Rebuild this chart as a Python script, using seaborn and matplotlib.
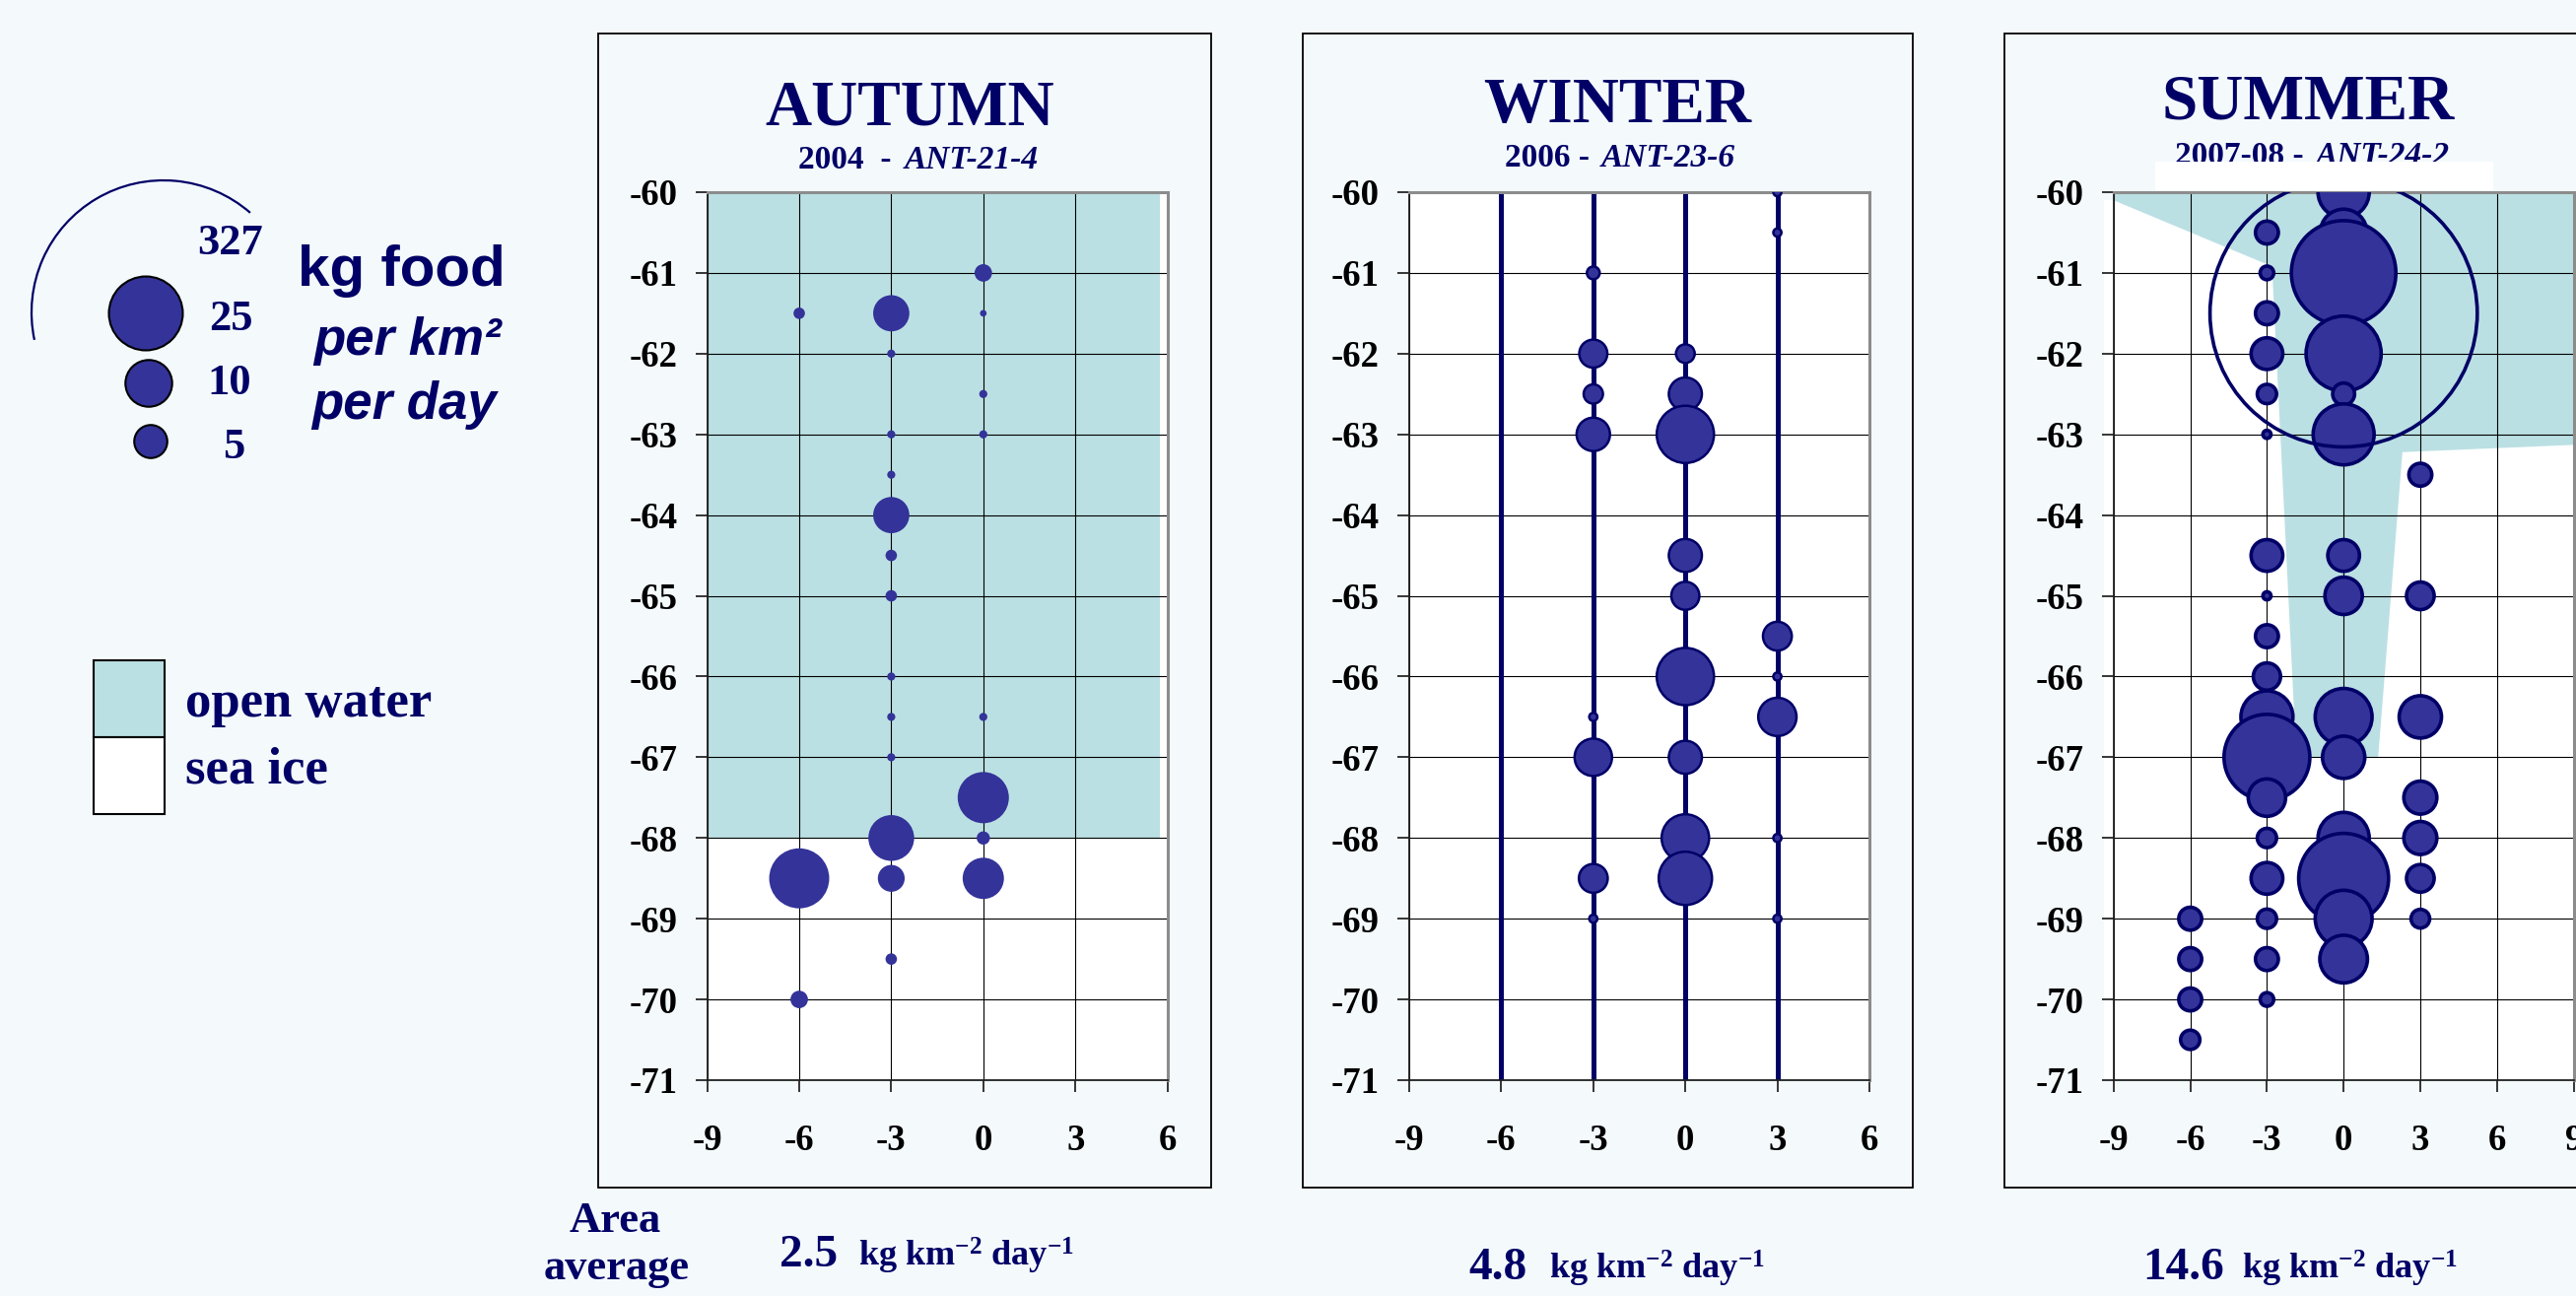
"""Krill food intake by season: autumn, winter, summer transects"""
import matplotlib
matplotlib.use("Agg")
import matplotlib.pyplot as plt
from matplotlib.patches import Arc, Rectangle
import pandas as pd
import seaborn as sns

# ---------------- data ----------------
autumn_lon = [0, -6, -3, 0, -3, 0, -3, 0, -3, -3, -3, -3,
              -3, -3, 0, -3, 0, -3, 0, -6, -3, 0, -3, -6]
autumn_lat = [-61, -61.5, -61.5, -61.5, -62, -62.5, -63, -63, -63.5, -64, -64.5, -65,
              -66, -66.5, -66.5, -67, -67.5, -68, -68, -68.5, -68.5, -68.5, -69.5, -70]
autumn_food = [1.4, 0.6, 6.0, 0.2, 0.3, 0.3, 0.3, 0.3, 0.3, 6.0, 0.6, 0.6,
               0.3, 0.3, 0.3, 0.3, 12, 9.6, 0.8, 16.5, 3.3, 7.8, 0.6, 1.4]

winter_lon = [3, 3, -3, -3, 0, -3, 0, -3, 0, 0, 0, 3,
              0, 3, -3, 3, -3, 0, 0, 3, -3, 0, -3, 3]
winter_lat = [-60, -60.5, -61, -62, -62, -62.5, -62.5, -63, -63, -64.5, -65, -65.5,
              -66, -66, -66.5, -66.5, -67, -67, -68, -68, -68.5, -68.5, -69, -69]
winter_food = [0.3, 0.3, 0.75, 3.6, 1.6, 1.7, 5.0, 5.1, 15, 5.0, 3.6, 3.8,
               15, 0.3, 0.3, 6.7, 6.4, 5.0, 10.3, 0.3, 3.8, 13, 0.3, 0.3]
winter_transects = [-6, -3, 0, 3]

summer_lon = [0, 0, -3, 0, -3, -3, 0, -3, 0, -3, 0, -3, 3, -3, 0,
              -3, 0, 3, -3, -3, -3, 0, 3, -3, 0, -3, 3, -3, 0, 3,
              -3, 0, 3, -6, -3, 0, 3, -6, -3, 0, -6, -3, -6]
summer_lat = [-60, -60.5, -60.5, -61, -61, -61.5, -62, -62, -62.5, -62.5, -63, -63, -63.5, -64.5, -64.5,
              -65, -65, -65, -65.5, -66, -66.5, -66.5, -66.5, -67, -67, -67.5, -67.5, -68, -68, -68,
              -68.5, -68.5, -68.5, -69, -69, -69, -69, -69.5, -69.5, -69.5, -70, -70, -70.5]
summer_food = [12, 10, 2.4, 50, 0.85, 2.4, 25.8, 4.6, 2.2, 1.7, 17, 0.3, 2.4, 4.6, 4.6,
               0.3, 6.4, 3.5, 2.4, 3.4, 12.4, 14.8, 8.2, 33.7, 8.2, 6.4, 5, 1.7, 12, 5,
               4.6, 37, 3.5, 2.4, 1.7, 14.8, 1.6, 2.4, 2.4, 10.4, 2.4, 0.85, 1.7]
summer_max_lon, summer_max_lat, summer_max_food = 0, -61.5, 327

autumn_water_lon = [-9, 5.75, 5.75, -9]
autumn_water_lat = [-60, -60, -68, -68]
summer_water_lon = [-9, 9, 9, 2.3, 1.35, -1.85, -2.8, -9]
summer_water_lat = [-60, -60, -63.13, -63.22, -67.0, -67.0, -60.92, -60.1]

legend_food = [25, 10, 5]
legend_labels = ["327", "25", "10", "5"]
area_average = ["2.5", "4.8", "14.6"]

# ---------------- style ----------------
NAVY = "#000066"
BUBBLE = "#333399"
WATER = "#BBE0E3"
BG = "#F4F9FC"
W, H, DPI = 2614, 1315, 100
FOOD_MAX = 327
S_MAX = 116.6 * FOOD_MAX  # marker area (pt^2) of the largest bubble

plt.rcParams["font.family"] = ["Liberation Serif", "DejaVu Serif"]
plt.rcParams["font.weight"] = "bold"
plt.rcParams["axes.unicode_minus"] = False
plt.rcParams["mathtext.fontset"] = "custom"
plt.rcParams["mathtext.rm"] = "Liberation Serif:bold"
plt.rcParams["mathtext.default"] = "rm"


def bubbles(ax, lon, lat, food, **kw):
    df = pd.DataFrame({"lon": lon, "lat": lat, "food": food})
    sns.scatterplot(data=df, x="lon", y="lat", size="food", sizes=(0, S_MAX),
                    size_norm=(0, FOOD_MAX), legend=False, ax=ax, zorder=3, **kw)


fig = plt.figure(figsize=(W / DPI, H / DPI), dpi=DPI, facecolor=BG)
ov = fig.add_axes([0, 0, 1, 1], zorder=0)
ov.set_axis_off()

panels = [
    dict(left=717.6, xmax=6, box=(607, 1229), title="AUTUMN", tx=923, ty=126,
         sub=("2004  -", 810, "ANT-21-4", 918, 171), avg=(791, 871, 1285)),
    dict(left=1430, xmax=6, box=(1322, 1941), title="WINTER", tx=1641, ty=124,
         sub=("2006 -", 1527, "ANT-23-6", 1625, 169), avg=(1490, 1572, 1298)),
    dict(left=2144.7, xmax=9, box=(2034, 2680), title="SUMMER", tx=2342, ty=120,
         sub=("2007-08 -", 2207, "ANT-24-2", 2350, 167), avg=(2174, 2275, 1298)),
]

axes = []
for p in panels:
    x0, x1 = p["box"]
    ov.add_patch(Rectangle((x0, 34), x1 - x0, 1171, facecolor=BG,
                           edgecolor="black", lw=1.3, zorder=1))
    ov.text(p["tx"], p["ty"], p["title"], fontsize=47, color=NAVY,
            ha="center", va="baseline", zorder=3)
    s1, sx1, s2, sx2, sy = p["sub"]
    ov.text(sx1, sy, s1, fontsize=24, color=NAVY, ha="left", va="baseline", zorder=3)
    ov.text(sx2, sy, s2, fontsize=24, color=NAVY, style="italic",
            ha="left", va="baseline", zorder=3)

    ax = fig.add_axes([p["left"] / W, 1 - 1096 / H, 467 / W, 901 / H], zorder=2)
    ax.set_facecolor("white")
    ax.set_axisbelow(True)
    ax.grid(True, color="black", lw=0.8)
    for side in ("left", "bottom"):
        ax.spines[side].set_color("#202020")
        ax.spines[side].set_linewidth(1.3)
    for side in ("top", "right"):
        ax.spines[side].set_color("#8C8C8C")
        ax.spines[side].set_linewidth(2.2)
    axes.append(ax)

ax_a, ax_w, ax_s = axes

# autumn
ax_a.fill(autumn_water_lon, autumn_water_lat, color=WATER, lw=0, zorder=0.2)
bubbles(ax_a, autumn_lon, autumn_lat, autumn_food, color=BUBBLE, edgecolor=BUBBLE, linewidth=0)

# winter
ax_w.vlines(winter_transects, -71, -60, color=NAVY, lw=3.6, zorder=2)
bubbles(ax_w, winter_lon, winter_lat, winter_food, color=BUBBLE, edgecolor=NAVY, linewidth=1.8)

# summer
ax_s.fill(summer_water_lon, summer_water_lat, color=WATER, lw=0, zorder=0.2)
bubbles(ax_s, summer_lon, summer_lat, summer_food, color=BUBBLE, edgecolor=NAVY, linewidth=2.6)
bubbles(ax_s, [summer_max_lon], [summer_max_lat], [summer_max_food],
        color="none", edgecolor=NAVY, linewidth=2.6)

for ax, p in zip(axes, panels):
    ax.set_xlim(-9, p["xmax"])
    ax.set_ylim(-71, -60)
    ax.set_xticks(range(-9, p["xmax"] + 1, 3))
    ax.set_yticks(range(-71, -59))
    ax.set_xlabel("")
    ax.set_ylabel("")
    ax.tick_params(direction="out", length=8.6, width=1.1, colors="black", labelsize=26.5)
    ax.tick_params(axis="y", pad=13)
    ax.tick_params(axis="x", pad=23)

# white strip hiding the lower part of the summer subtitle, and the plot-area margin
ov.add_patch(Rectangle((2187, 164), 343, 29, facecolor="white", lw=0, zorder=5))
ov.add_patch(Rectangle((2135, 203), 9, 893, facecolor="white", lw=0, zorder=2))

# ---------------- bubble legend ----------------
ov.add_patch(Arc((166, 317), 268, 268, theta1=168, theta2=311, color=NAVY, lw=1.6))
leg = pd.DataFrame({"x": [148, 151, 153], "y": [318, 389, 448], "food": legend_food})
sns.scatterplot(data=leg, x="x", y="y", size="food", sizes=(0, S_MAX), size_norm=(0, FOOD_MAX),
                color=BUBBLE, edgecolor="black", linewidth=1.5, legend=False, ax=ov, zorder=3)
for lab, lx, ly in zip(legend_labels, [234, 234, 233, 237], [258, 335, 400, 465]):
    ov.text(lx, ly, lab, fontsize=32, color=NAVY, ha="center", va="baseline")
sans = ["Liberation Sans", "DejaVu Sans"]
ov.text(302, 290, "kg food", fontsize=42, color=NAVY, family=sans, ha="left", va="baseline")
ov.text(318, 360, "per km\u00b2", fontsize=38, color=NAVY, family=sans, style="italic",
        ha="left", va="baseline")
ov.text(316, 425, "per day", fontsize=38, color=NAVY, family=sans, style="italic",
        ha="left", va="baseline")

# ---------------- ice legend ----------------
ov.add_patch(Rectangle((95, 670), 72, 78, facecolor=WATER, edgecolor="black", lw=1.5))
ov.add_patch(Rectangle((95, 748), 72, 78, facecolor="white", edgecolor="black", lw=1.5))
ov.text(188, 727, "open water", fontsize=38, color=NAVY, ha="left", va="baseline")
ov.text(188, 794, "sea ice", fontsize=38, color=NAVY, ha="left", va="baseline")

# ---------------- area averages ----------------
ov.text(624, 1250, "Area", fontsize=32, color=NAVY, ha="center", va="baseline")
ov.text(626, 1298, "average", fontsize=32, color=NAVY, ha="center", va="baseline")
for val, p in zip(area_average, panels):
    vx, ux, by = p["avg"]
    ov.text(vx, by, val, fontsize=34, color=NAVY, ha="left", va="baseline")
    ov.text(ux, by, r"kg km$^{-2}$ day$^{-1}$", fontsize=26, color=NAVY,
            ha="left", va="baseline")

ov.set_xlim(0, W)
ov.set_ylim(H, 0)
ov.set_xlabel("")
ov.set_ylabel("")

fig.savefig("out.png", dpi=DPI, facecolor=BG)
